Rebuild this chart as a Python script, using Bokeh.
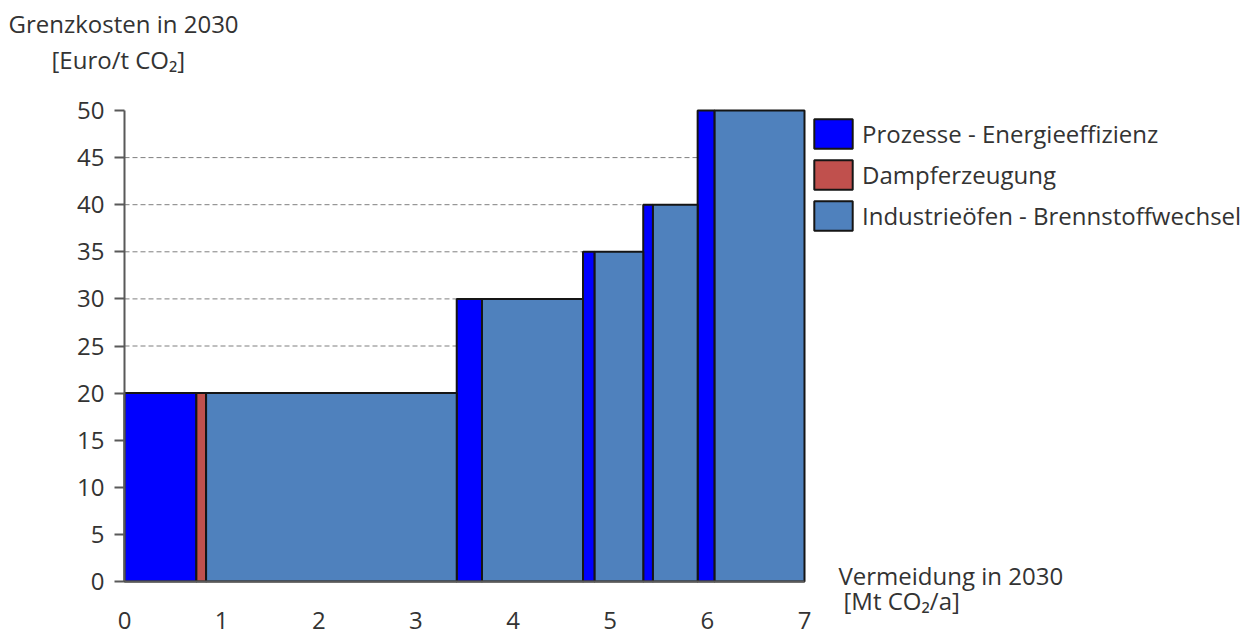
from bokeh.plotting import figure
from bokeh.models import (Range1d, FixedTicker, Label, Legend, LegendItem,
                          ColumnDataSource, LinearAxis)
from bokeh.embed import file_html
from bokeh.resources import INLINE
import numpy as np

# Abatement measures, in order along the cost curve
measures = ["Prozesse - Energieeffizienz", "Dampferzeugung",
            "Industrieöfen - Brennstoffwechsel",
            "Prozesse - Energieeffizienz", "Industrieöfen - Brennstoffwechsel",
            "Prozesse - Energieeffizienz", "Industrieöfen - Brennstoffwechsel",
            "Prozesse - Energieeffizienz", "Industrieöfen - Brennstoffwechsel",
            "Prozesse - Energieeffizienz", "Industrieöfen - Brennstoffwechsel"]
# Abatement volume per measure [Mt CO2/a]
volumes = [0.74, 0.10, 2.58, 0.26, 1.04, 0.12, 0.50, 0.10, 0.46, 0.175, 0.925]
# Marginal cost per measure [Euro/t CO2]
costs = [20, 20, 20, 30, 30, 35, 35, 40, 40, 50, 50]

categories = ["Prozesse - Energieeffizienz", "Dampferzeugung",
              "Industrieöfen - Brennstoffwechsel"]
cat_colors = ["#0000FF", "#C0504D", "#4F81BD"]

x_ticks = [0, 1, 2, 3, 4, 5, 6, 7]
y_ticks = [0, 5, 10, 15, 20, 25, 30, 35, 40, 45, 50]
grid_ticks = [5, 10, 15, 20, 25, 30, 35, 40, 45]

FONT = "Open Sans"
FS = "24px"
TXT = "#333333"
AXIS = "#595959"

# Canvas size and where the plotting area sits on it (pixels)
W, H = 1250, 634
PLOT_L, PLOT_R, PLOT_T, PLOT_B = 124, 804, 110, 581

x0, x1 = x_ticks[0], x_ticks[-1]
y0, y1 = y_ticks[0], y_ticks[-1]
sx = (PLOT_R - PLOT_L) / (x1 - x0)
sy = (PLOT_B - PLOT_T) / (y1 - y0)
x_range = Range1d(x0 - PLOT_L / sx, x1 + (W - PLOT_R) / sx)
y_range = Range1d(y0 - (H - PLOT_B) / sy, y1 + PLOT_T / sy)

right = np.cumsum(volumes)
left = right - np.array(volumes)
color_of = dict(zip(categories, cat_colors))

p = figure(width=W, height=H, output_backend="svg", toolbar_location=None,
           x_range=x_range, y_range=y_range,
           x_axis_location=None, y_axis_location=None, min_border=0)
p.outline_line_color = None
p.background_fill_color = "white"
p.border_fill_color = "white"
p.grid.visible = False

# Axes pinned at the origin, spanning only the value range
xaxis = LinearAxis(fixed_location=0, bounds=(x0, x1),
                   ticker=FixedTicker(ticks=x_ticks))
yaxis = LinearAxis(fixed_location=0, bounds=(y0, y1),
                   ticker=FixedTicker(ticks=y_ticks))
for ax in (xaxis, yaxis):
    ax.axis_line_color = AXIS
    ax.axis_line_width = 2
    ax.major_tick_line_color = AXIS
    ax.major_tick_line_width = 2
    ax.minor_tick_line_color = None
    ax.major_label_text_font = FONT
    ax.major_label_text_font_size = FS
    ax.major_label_text_color = TXT
yaxis.major_tick_out = 10
yaxis.major_tick_in = 0
yaxis.major_label_standoff = 10
xaxis.major_tick_out = 0
xaxis.major_tick_in = 0
xaxis.major_label_standoff = 30
p.add_layout(xaxis, "below")
p.add_layout(yaxis, "left")

# Dashed horizontal grid lines across the value range
p.segment(x0=[x0] * len(grid_ticks), x1=[x1] * len(grid_ticks),
          y0=grid_ticks, y1=grid_ticks, line_color="#7f7f7f",
          line_dash="5 3", line_width=1)

# Bars of the cost curve
renderers = {}
for cat in categories:
    idx = [i for i, m in enumerate(measures) if m == cat]
    src = ColumnDataSource(dict(left=left[idx], right=right[idx],
                                top=[costs[i] for i in idx],
                                bottom=[0] * len(idx)))
    renderers[cat] = p.quad(left="left", right="right", top="top",
                            bottom="bottom", source=src,
                            fill_color=color_of[cat], line_color="#151515",
                            line_width=2)

# Legend to the right of the bars (location: left, bottom edge in px);
# the swatch is drawn inset by 10% of the glyph area on each side
legend = Legend(items=[LegendItem(label=c, renderers=[renderers[c]])
                       for c in categories],
                location=(809, H - 234), orientation="vertical",
                glyph_width=48, glyph_height=37, spacing=4,
                label_standoff=5, padding=0, margin=0,
                label_text_font=FONT, label_text_font_size=FS,
                label_text_color=TXT, border_line_alpha=0,
                background_fill_alpha=0)
p.add_layout(legend, "center")

# Axis titles, placed in canvas pixels
def title(text, x, y):
    p.add_layout(Label(x=x, y=y, x_units="canvas", y_units="canvas", text=text,
                       text_font=FONT, text_font_size=FS, text_color=TXT,
                       text_align="left", text_baseline="middle"))

title("Grenzkosten in 2030", 8, 23)
title("[Euro/t CO\u2082]", 51, 59)
title("Vermeidung in 2030", 838, 575)
title("[Mt CO\u2082/a]", 843, 600)

open("out.html", "w").write(file_html(p, INLINE))
